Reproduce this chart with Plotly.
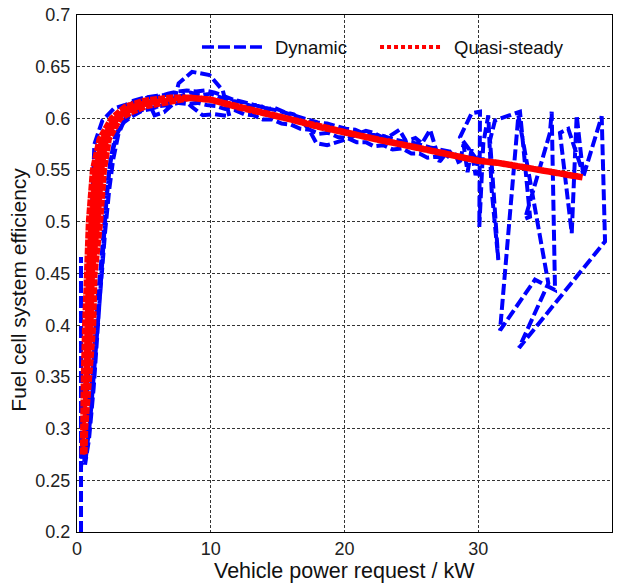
import plotly.graph_objects as go

# ---------------- data ----------------
# Dynamic simulation trace (time ordered), power [kW] and efficiency [-]
dyn_power = [
    0.3, 0.3, 0.3, 0.3, 0.3, 0.3, 0.3,
    0.6, 0.8, 1.0, 1.15, 1.3, 1.9, 2.8, 3.6, 4.4, 5.2, 5.8, 6.5, 7.2, 7.6, 8.6, 9.9, 10.9,
    11.4, 10.3, 9.4, 8.6, 7.8, 7.0, 6.0, 5.0, 4.2, 3.2, 2.4, 1.9, 1.6, 1.3, 1.0, 0.75, 0.55,
    0.6, 1.1, 1.5, 1.8, 2.05, 2.3, 2.6, 3.0, 3.6, 4.5, 5.5, 6.3, 7.0, 7.8, 8.5, 9.2, 10.0, 10.8,
    11.5, 12.2, 13.0, 13.6, 14.2, 14.8, 15.5, 16.2, 16.8, 17.4, 17.9, 18.7, 20.2, 21.0, 21.6, 22.2,
    22.8, 23.4, 24.1, 24.6, 25.3, 25.8, 26.4, 26.8, 27.1, 27.6, 28.0,
    27.5, 26.9, 26.2, 25.6, 25.0, 24.3, 23.6, 22.9, 22.2, 21.6, 20.9, 20.2, 19.5, 18.8, 18.1, 17.4,
    16.7, 16.0, 15.3, 14.6, 13.9, 13.2, 12.5, 11.8, 11.1, 10.4, 9.7, 9.0, 8.3, 7.6, 6.9, 6.2, 5.5,
    4.8, 4.1, 3.5, 2.9, 2.5, 2.2, 1.95, 1.6, 1.25, 0.9, 0.6,
    1.0, 1.4, 1.75, 2.1, 2.4, 2.7, 3.1, 3.8, 4.6, 5.4, 6.1, 6.8, 7.5, 8.2, 8.9, 9.6, 10.3, 11.0,
    11.7, 12.4, 13.1, 13.8, 14.5, 15.2, 15.9, 16.6, 17.3, 18.0, 18.7, 19.4, 20.1, 20.8, 21.5, 22.2,
    22.9, 23.6, 24.3, 25.0, 25.7, 26.4, 27.1, 27.8, 28.3, 28.6, 28.9, 29.2, 29.5, 29.8, 30.1, 29.9,
    28.64, 29.51, 30.13, 30.08, 30.38, 30.75, 31.0, 31.5, 30.88, 31.25, 33.12, 33.87, 33.5, 35.36,
    35.49, 35.74, 34.24, 31.63, 33.0, 35.24, 33.05, 39.48, 39.23, 37.86, 37.36, 36.99, 36.11, 36.73,
    37.86,
]
dyn_eff = [
    0.200, 0.466, 0.262, 0.459, 0.266, 0.455, 0.262,
    0.330, 0.400, 0.470, 0.530, 0.575, 0.598, 0.610, 0.613, 0.617, 0.620, 0.603,
    0.606, 0.614, 0.634, 0.645, 0.642, 0.627,
    0.602, 0.604, 0.603, 0.611, 0.620, 0.623, 0.622, 0.620, 0.617, 0.606, 0.588, 0.565, 0.530, 0.480,
    0.410, 0.330, 0.270,
    0.270, 0.340, 0.420, 0.460, 0.500, 0.540, 0.565, 0.585, 0.600, 0.607, 0.610, 0.612, 0.618, 0.622,
    0.625, 0.622, 0.624, 0.620,
    0.617, 0.616, 0.612, 0.613, 0.609, 0.610, 0.606, 0.604, 0.598, 0.588, 0.576, 0.574, 0.580, 0.585,
    0.588, 0.586,
    0.582, 0.583, 0.589, 0.578, 0.581, 0.576, 0.589, 0.572, 0.558, 0.566, 0.568,
    0.560, 0.563, 0.562, 0.566, 0.566, 0.571, 0.570, 0.574, 0.573, 0.577, 0.577, 0.581, 0.582, 0.586,
    0.585, 0.589,
    0.590, 0.594, 0.595, 0.599, 0.599, 0.603, 0.604, 0.608, 0.609, 0.612, 0.613, 0.615, 0.614, 0.615,
    0.613, 0.612, 0.609,
    0.607, 0.602, 0.596, 0.585, 0.560, 0.520, 0.470, 0.400, 0.340, 0.290, 0.265,
    0.310, 0.380, 0.440, 0.490, 0.530, 0.560, 0.585, 0.606, 0.614, 0.618, 0.621, 0.624, 0.626, 0.627,
    0.626, 0.627, 0.625, 0.621,
    0.618, 0.616, 0.613, 0.611, 0.609, 0.607, 0.604, 0.601, 0.599, 0.596, 0.595, 0.592, 0.590, 0.589,
    0.585, 0.584,
    0.583, 0.580, 0.578, 0.577, 0.574, 0.572, 0.570, 0.568, 0.565, 0.555, 0.575, 0.548, 0.570, 0.545,
    0.565, 0.560,
    0.582, 0.605, 0.6065, 0.495, 0.576, 0.603, 0.531, 0.463, 0.579, 0.598, 0.6065, 0.505, 0.503, 0.586,
    0.6065, 0.434, 0.444, 0.395, 0.603, 0.4405, 0.378, 0.481, 0.602, 0.544, 0.603, 0.489, 0.586, 0.590,
    0.546,
]

# Quasi-steady curve: the low-power band (left and right edges) and the common branch
qs_left_power = [0.45, 0.45, 0.52, 0.62, 0.70, 0.90, 1.20, 1.70, 2.60, 3.60, 5.0, 7.0]
qs_left_eff = [0.275, 0.300, 0.350, 0.400, 0.450, 0.500, 0.550, 0.580, 0.600, 0.611, 0.617, 0.620]
qs_right_power = [0.55, 0.60, 0.88, 1.20, 1.30, 1.72, 2.00, 2.37, 3.20, 4.20, 5.2, 7.0]
qs_right_eff = [0.275, 0.300, 0.350, 0.400, 0.450, 0.500, 0.550, 0.580, 0.600, 0.607, 0.612, 0.617]
qs_main_power = [8.5, 10, 12, 14, 16, 18, 20, 22.6, 25, 27.1, 30, 31.5, 34, 36, 37.8]
qs_main_eff = [0.620, 0.618, 0.611, 0.605, 0.599, 0.592, 0.586, 0.579, 0.573, 0.567, 0.559, 0.557,
               0.551, 0.547, 0.543]

x_ticks = [0, 10, 20, 30, 40]
y_ticks = [0.2, 0.25, 0.3, 0.35, 0.4, 0.45, 0.5, 0.55, 0.6, 0.65, 0.7]

# low-power band outline (left edge up, right edge down) and the full quasi-steady path
band_power = qs_left_power + qs_right_power[::-1]
band_eff = qs_left_eff + qs_right_eff[::-1]
qs_power = qs_left_power + qs_main_power + qs_main_power[::-1] + qs_right_power[::-1]
qs_eff = qs_left_eff + qs_main_eff + qs_main_eff[::-1] + qs_right_eff[::-1]

BLUE = "#0000FF"
RED = "#FF0000"
FONT = "Liberation Sans, Arial, sans-serif"

fig = go.Figure()
fig.add_trace(go.Scatter(
    x=dyn_power, y=dyn_eff, mode="lines", name="Dynamic",
    line=dict(color=BLUE, width=4, dash="11px,4px"), showlegend=False, hoverinfo="skip",
))
fig.add_trace(go.Scatter(
    x=band_power, y=band_eff, mode="lines", name="Quasi-steady band",
    line=dict(color=RED, width=1), fill="toself", fillcolor=RED,
    showlegend=False, hoverinfo="skip",
))
fig.add_trace(go.Scatter(
    x=qs_power, y=qs_eff, mode="lines", name="Quasi-steady",
    line=dict(color=RED, width=6.5, dash="7px,1px"),
    showlegend=False, hoverinfo="skip",
))

axis_common = dict(
    showgrid=True, gridcolor="#333333", gridwidth=1, griddash="3px,2px",
    showline=True, linecolor="black", linewidth=1, mirror=True,
    ticks="", zeroline=False,
    tickfont=dict(family=FONT, size=18, color="#222222"),
)
fig.update_xaxes(range=[0, 40], tickvals=x_ticks, **axis_common)
fig.update_yaxes(range=[0.2, 0.7], tickvals=y_ticks, ticklabelstandoff=2, **axis_common)

# legend drawn manually (long line samples like the original)
legend_y = 0.938
fig.add_shape(type="line", xref="paper", yref="paper", x0=0.2336, x1=0.3514, y0=legend_y, y1=legend_y,
              line=dict(color=BLUE, width=3.5, dash="12px,4px"))
fig.add_shape(type="line", xref="paper", yref="paper", x0=0.5664, x1=0.684, y0=legend_y, y1=legend_y,
              line=dict(color=RED, width=4, dash="4px,3px"))
fig.add_annotation(text="Dynamic", xref="paper", yref="paper", x=0.3664, y=legend_y,
                   xanchor="left", yanchor="middle", showarrow=False,
                   font=dict(family=FONT, size=18.5, color="#111111"))
fig.add_annotation(text="Quasi-steady", xref="paper", yref="paper", x=0.701, y=legend_y,
                   xanchor="left", yanchor="middle", showarrow=False,
                   font=dict(family=FONT, size=18.5, color="#111111"))

# axis titles
fig.add_annotation(text="Vehicle power request / kW", xref="paper", yref="paper", x=0.5, y=-0.0754,
                   xanchor="center", yanchor="middle", showarrow=False,
                   font=dict(family=FONT, size=21.5, color="#111111"))
fig.add_annotation(text="Fuel cell system efficiency", xref="paper", yref="paper", x=-0.111, y=0.468,
                   xanchor="center", yanchor="middle", showarrow=False, textangle=-90,
                   font=dict(family=FONT, size=21, color="#111111"))

fig.update_layout(
    width=617, height=585,
    margin=dict(l=77, r=5, t=15, b=53),
    paper_bgcolor="white", plot_bgcolor="white",
    showlegend=False,
)

fig.write_html("out.html")
